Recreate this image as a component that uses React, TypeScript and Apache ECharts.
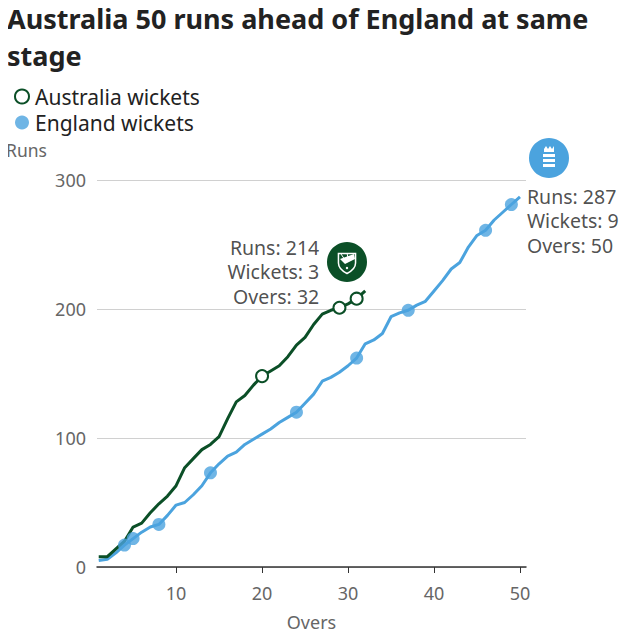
import React, { useEffect, useRef } from "react";
import * as echarts from "echarts";

const ausRuns = [8, 8, 14, 20, 31, 34, 42, 49, 55, 63, 77, 84, 91, 95, 101, 115, 128, 133, 141, 148, 152, 156, 163, 172, 178, 188, 196, 199, 201, 204, 208, 214];
const engRuns = [5, 6, 11, 17, 22, 27, 31, 33, 40, 48, 50, 56, 63, 73, 80, 86, 89, 95, 99, 103, 107, 112, 116, 120, 127, 134, 144, 147, 151, 156, 162, 173, 176, 181, 194, 197, 199, 203, 206, 214, 222, 231, 236, 248, 257, 261, 269, 275, 281, 287];
const ausWicketOvers = [20, 29, 31];
const engWicketOvers = [4, 5, 8, 14, 24, 31, 37, 46, 49];
const xTicks = [10, 20, 30, 40, 50];
const ausLabel = ["Runs: 214", "Wickets: 3", "Overs: 32"];
const engLabel = ["Runs: 287", "Wickets: 9", "Overs: 50"];
const titleLines = ["Australia 50 runs ahead of England at same", "stage"];

const AUS = "#0b4f27";
const ENG = "#4ba3de";
const FONT = "'Noto Sans', 'Open Sans', sans-serif";

const shieldD = "M -9 -10 L 9 -10 L 9 0 C 9 6 4 9 0 11 C -4 9 -9 6 -9 0 Z";
echarts.graphic.registerShape("shield", echarts.graphic.extendPath(shieldD, {}));

export default function App() {
  const ref = useRef<HTMLDivElement>(null);
  useEffect(() => {
    if (!ref.current) return;
    const chart = echarts.init(ref.current, null, { renderer: "svg" });
    const ausData = ausRuns.map((r, i) => [i + 1, r]);
    const engData = engRuns.map((r, i) => [i + 1, r]);
    const ausW = ausWicketOvers.map((o) => [o, ausRuns[o - 1]]);
    const engW = engWicketOvers.map((o) => [o, engRuns[o - 1]]);
    const ausEnd = ausData[ausData.length - 1];
    const engEnd = engData[engData.length - 1];
    const titleStyle = { fontSize: 27, fontWeight: "bold", color: "#222", fontFamily: FONT, lineHeight: 32 };
    chart.setOption({
      animation: false,
      textStyle: { fontFamily: FONT },
      title: titleLines.map((t, i) => ({ text: t, left: 7, top: 2 + i * 37, padding: 0, textStyle: titleStyle })),
      legend: {
        orient: "vertical",
        left: 9,
        top: 81,
        itemWidth: 14,
        itemHeight: 14,
        itemGap: 5,
        textStyle: { fontSize: 21, color: "#222", padding: [0, 0, 0, 1] },
        data: [
          { name: "Australia wickets", icon: "circle", itemStyle: { color: "#fff", borderColor: AUS, borderWidth: 2 } },
          { name: "England wickets", icon: "circle", itemStyle: { color: ENG } },
        ],
        selectedMode: false,
      },
      grid: { left: 97, right: 114, top: 180, bottom: 73 },
      xAxis: {
        type: "value",
        min: 0.8,
        max: 50.7,
        name: "Overs",
        nameLocation: "middle",
        nameGap: 46,
        nameTextStyle: { fontSize: 18, color: "#666" },
        axisLine: { lineStyle: { color: "#333", width: 1.5 } },
        axisTick: { show: true, length: 6, lineStyle: { color: "#333" }, customValues: xTicks },
        axisLabel: { fontSize: 18, color: "#666", margin: 17, customValues: xTicks },
        splitLine: { show: false },
      },
      yAxis: {
        type: "value",
        min: 0,
        max: 300,
        interval: 100,
        axisLine: { show: false },
        axisTick: { show: false },
        axisLabel: { fontSize: 18, color: "#666", margin: 11 },
        splitLine: { lineStyle: { color: "#d0d0d0", width: 1 } },
      },
      series: [
        {
          type: "line",
          data: engData,
          showSymbol: false,
          lineStyle: { color: ENG, width: 3 },
          z: 2,
        },
        {
          type: "line",
          data: ausData,
          showSymbol: false,
          lineStyle: { color: AUS, width: 3 },
          z: 3,
        },
        {
          name: "England wickets",
          type: "scatter",
          data: engW,
          symbolSize: 13,
          itemStyle: { color: ENG },
          z: 4,
        },
        {
          name: "Australia wickets",
          type: "scatter",
          data: ausW,
          symbolSize: 12,
          itemStyle: { color: "#ffffff", borderColor: AUS, borderWidth: 2, opacity: 1 },
          z: 5,
        },
        {
          type: "scatter",
          data: [ausEnd],
          symbolSize: 0,
          silent: true,
          z: 6,
          label: {
            show: true,
            position: "left",
            distance: 44,
            offset: [0, -19],
            align: "right",
            formatter: ausLabel.join("\n"),
            fontSize: 19.5,
            lineHeight: 24.5,
            color: "#222",
            backgroundColor: "#fff",
            padding: [0, 2, 0, 4],
          },
        },
        {
          type: "scatter",
          data: [engEnd],
          symbolSize: 0,
          silent: true,
          z: 6,
          label: {
            show: true,
            position: "right",
            distance: 7,
            offset: [0, 24],
            align: "left",
            formatter: engLabel.join("\n"),
            fontSize: 19.5,
            lineHeight: 24.5,
            color: "#222",
          },
        },
      ],
      graphic: [
        { type: "text", left: 6, top: 141, style: { text: "Runs", fontSize: 17.5, fill: "#666", fontFamily: FONT } },
        {
          type: "group",
          x: 347,
          y: 262,
          children: [
            { type: "circle", shape: { cx: 0, cy: 0, r: 20 }, style: { fill: AUS } },
            { type: "shield", x: 0, y: 1, scaleX: 0.95, scaleY: 0.95, style: { fill: "none", stroke: "#fff", lineWidth: 1.6 } },
            { type: "polygon", shape: { points: [[-7, -3], [7, -8], [8, -3], [-2, 2]] }, style: { fill: "#fff" } },
            { type: "line", shape: { x1: -6, y1: -8, x2: -2, y2: -2 }, style: { stroke: "#fff", lineWidth: 1 } },
            { type: "line", shape: { x1: 0, y1: -9, x2: 1, y2: -4 }, style: { stroke: "#fff", lineWidth: 1 } },
            { type: "circle", shape: { cx: 0, cy: 6, r: 1.2 }, style: { fill: "#fff" } },
          ],
        },
        {
          type: "group",
          x: 549,
          y: 158,
          children: [
            { type: "circle", shape: { cx: 0, cy: 0, r: 20 }, style: { fill: ENG } },
            { type: "polygon", shape: { points: [[-5, -9], [-3, -12], [-1, -9], [1, -12], [3, -9], [5, -12], [5, -6], [-5, -6]] }, style: { fill: "#fff" } },
            { type: "rect", shape: { x: -6, y: -4, width: 12, height: 3 }, style: { fill: "#fff" } },
            { type: "rect", shape: { x: -6, y: 1, width: 12, height: 3 }, style: { fill: "#fff" } },
            { type: "rect", shape: { x: -6, y: 6, width: 12, height: 3 }, style: { fill: "#fff" } },
          ],
        },
      ],
    });
    return () => chart.dispose();
  }, []);
  return <div ref={ref} style={{ width: 640, height: 640, margin: -8 }} />;
}
